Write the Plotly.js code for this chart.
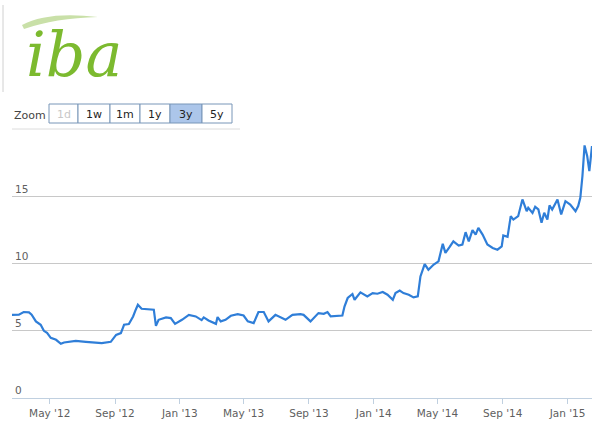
<!DOCTYPE html>
<html>
<head>
<meta charset="utf-8">
<script src="https://cdn.plot.ly/plotly-3.0.1.min.js"></script>
<style>
html,body{margin:0;padding:0;background:#fff;}
#chart{width:600px;height:424px;}
</style>
</head>
<body>
<div id="chart"></div>
<script>
// ---- data ----
var dates = [
'2012-02-20','2012-03-04','2012-03-13','2012-03-23','2012-03-28','2012-04-05','2012-04-14','2012-04-20','2012-04-26',
'2012-05-03','2012-05-13','2012-05-22','2012-05-28','2012-06-08','2012-06-19','2012-07-08','2012-07-27','2012-08-07','2012-08-24',
'2012-09-03','2012-09-12','2012-09-18','2012-09-27','2012-10-05','2012-10-10','2012-10-14','2012-10-21','2012-11-04','2012-11-13',
'2012-11-17','2012-11-22','2012-12-06','2012-12-15','2012-12-23',
'2013-01-05','2013-01-18','2013-01-31','2013-02-11','2013-02-15','2013-02-24','2013-03-10','2013-03-13','2013-03-19','2013-03-28',
'2013-04-07','2013-04-20','2013-05-01','2013-05-09','2013-05-20','2013-05-29','2013-06-08','2013-06-17','2013-06-30','2013-07-19',
'2013-08-01','2013-08-16','2013-08-22','2013-09-04','2013-09-19','2013-09-29','2013-10-06','2013-10-12','2013-10-25','2013-11-03',
'2013-11-07','2013-11-13','2013-11-22','2013-11-26','2013-12-07','2013-12-20','2013-12-30',
'2014-01-08','2014-01-18','2014-01-27','2014-02-06','2014-02-11','2014-02-19','2014-02-26','2014-03-08','2014-03-17','2014-03-25',
'2014-03-30','2014-04-07','2014-04-14','2014-04-24','2014-05-03','2014-05-11','2014-05-16','2014-05-24','2014-05-31','2014-06-10',
'2014-06-17','2014-06-23','2014-06-29','2014-07-06','2014-07-12','2014-07-17','2014-07-25','2014-08-03','2014-08-13','2014-08-22',
'2014-08-30','2014-09-02','2014-09-10','2014-09-16','2014-09-21','2014-09-30','2014-10-08','2014-10-16','2014-10-19','2014-10-27',
'2014-11-01','2014-11-07','2014-11-13','2014-11-18','2014-11-24','2014-11-28','2014-12-03','2014-12-13','2014-12-20','2014-12-28',
'2015-01-06','2015-01-16','2015-01-21','2015-01-25','2015-01-29','2015-02-02','2015-02-07','2015-02-11','2015-02-16'
];
var prices = [
6.19,6.20,6.40,6.37,6.20,5.70,5.45,5.00,4.85,
4.48,4.33,4.03,4.13,4.20,4.25,4.18,4.15,4.08,4.18,
4.70,4.83,5.45,5.50,6.07,6.57,6.94,6.64,6.62,6.57,
5.37,5.82,6.00,5.95,5.52,
5.82,6.19,6.07,5.80,6.00,5.77,5.52,6.02,5.70,5.82,
6.12,6.24,6.14,5.70,5.57,6.40,6.40,5.70,6.19,5.82,
6.19,6.24,6.19,5.70,6.32,6.27,6.40,6.07,6.14,6.14,
6.81,7.44,7.74,7.31,7.86,7.56,7.81,
7.76,7.89,7.69,7.31,7.81,8.00,7.81,7.69,7.49,7.56,
9.05,9.97,9.55,9.93,10.17,11.47,10.80,11.24,11.66,11.34,
11.42,12.34,11.66,12.49,12.16,12.66,12.16,11.42,11.17,11.04,
11.29,12.09,11.99,13.53,13.28,13.53,14.78,13.90,14.15,13.78,
14.23,14.03,13.04,13.78,13.28,14.33,14.03,14.78,13.66,14.65,
14.40,13.90,14.28,14.90,16.52,18.80,18.00,16.89,18.75
];
var yTicks = [0, 5, 10, 15];
var zoomLabels = ['1d','1w','1m','1y','3y','5y'];
var zoomSelected = '3y';
var zoomDisabled = ['1d'];
var logoText = 'iba';

// ---- layout helpers (pixel -> paper) ----
var L = 12, R = 592, T = 138, B = 398;
function px(x){ return (x - L) / (R - L); }
function py(y){ return (B - y) / (B - T); }

var shapes = [], annotations = [];

// logo separator line
shapes.push({type:'line', xref:'paper', yref:'paper', x0:px(3), x1:px(3), y0:py(5), y1:py(92),
  line:{color:'#d0d0d0', width:1}});
// logo swoosh
var sw = 'M '+px(22)+' '+py(25)+' Q '+px(48)+' '+py(11)+' '+px(98)+' '+py(17)+
         ' Q '+px(55)+' '+py(18)+' '+px(24)+' '+py(29)+' Z';
shapes.push({type:'path', xref:'paper', yref:'paper', path:sw, fillcolor:'#c9e0a8', line:{width:0}});
annotations.push({xref:'paper', yref:'paper', x:px(24), y:py(16), xanchor:'left', yanchor:'top',
  text:'<i>'+logoText+'</i>', showarrow:false,
  font:{family:'DejaVu Serif', size:62, color:'#7cba2f'}});

// zoom label
annotations.push({xref:'paper', yref:'paper', x:px(12), y:py(115), xanchor:'left', yanchor:'middle',
  text:'Zoom', showarrow:false, font:{family:'DejaVu Sans', size:11, color:'#444'}});
// zoom buttons
var edges = [49,78,110,140,170,202,232];
zoomLabels.forEach(function(lab,i){
  var sel = lab === zoomSelected, dis = zoomDisabled.indexOf(lab) >= 0;
  shapes.push({type:'rect', xref:'paper', yref:'paper', x0:px(edges[i]), x1:px(edges[i+1]),
    y0:py(123), y1:py(104), fillcolor: sel ? '#acc6ea' : '#ffffff',
    line:{color:'#7896b8', width:1}});
  annotations.push({xref:'paper', yref:'paper', x:px((edges[i]+edges[i+1])/2), y:py(114),
    xanchor:'center', yanchor:'middle', text:lab, showarrow:false,
    font:{family:'DejaVu Sans', size:11, color: dis ? '#c8c8c8' : '#222'}});
});
// separator under buttons
shapes.push({type:'line', xref:'paper', yref:'paper', x0:px(12), x1:px(240), y0:py(129), y1:py(129),
  line:{color:'#dcdcdc', width:1}});

var trace = {
  x: dates, y: prices, type:'scatter', mode:'lines',
  line:{color:'#2f7ed8', width:2.2}, hoverinfo:'x+y'
};

var layout = {
  width:600, height:424,
  margin:{l:L, r:600-R, t:T, b:424-B, pad:0},
  paper_bgcolor:'#fff', plot_bgcolor:'#fff',
  showlegend:false,
  xaxis:{
    type:'date', range:['2012-02-20','2015-02-16'],
    tick0:'2012-01-01', dtick:'M4', tickformat:"%b '%y",
    showgrid:false, zeroline:false,
    showline:true, linecolor:'#c0d0e0', linewidth:1,
    ticks:'outside', ticklen:5, tickcolor:'#c0d0e0',
    tickfont:{family:'DejaVu Sans', size:10.5, color:'#606060'}
  },
  yaxis:{
    range:[0, 19.35], tickvals:yTicks, ticktext:yTicks.map(String),
    ticklabelposition:'inside top',
    showgrid:true, gridcolor:'#c8c8c8', gridwidth:1, zeroline:false,
    showline:false, ticks:'',
    tickfont:{family:'DejaVu Sans', size:10.5, color:'#606060'}
  },
  shapes:shapes, annotations:annotations
};

Plotly.newPlot('chart', [trace], layout, {displayModeBar:false, staticPlot:true});
</script>
</body>
</html>
